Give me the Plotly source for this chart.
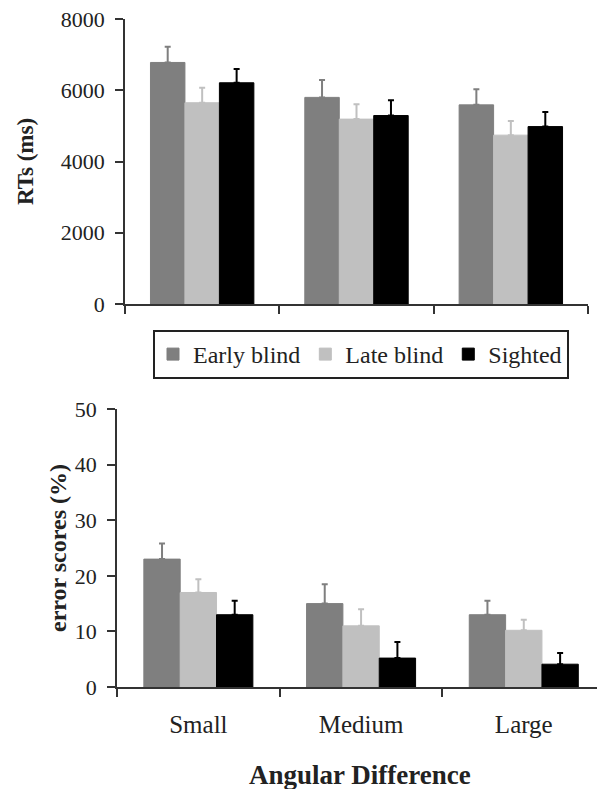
import plotly.graph_objects as go

# Conditions and groups
categories = ["Small", "Medium", "Large"]
groups = ["Early blind", "Late blind", "Sighted"]
colors = ["#7f7f7f", "#c0c0c0", "#000000"]

# Reaction times (ms), means and SE
rt_early = [6780, 5800, 5590]
rt_late = [5650, 5190, 4740]
rt_sighted = [6210, 5290, 4980]
rt_err_early = [440, 490, 440]
rt_err_late = [420, 420, 400]
rt_err_sighted = [390, 430, 410]

# Error scores (%), means and SE
err_early = [23.0, 15.0, 13.0]
err_late = [17.0, 11.0, 10.2]
err_sighted = [13.0, 5.2, 4.1]
err_err_early = [2.8, 3.5, 2.5]
err_err_late = [2.4, 3.0, 1.9]
err_err_sighted = [2.5, 2.9, 2.0]

rt_vals = [rt_early, rt_late, rt_sighted]
rt_errs = [rt_err_early, rt_err_late, rt_err_sighted]
es_vals = [err_early, err_late, err_sighted]
es_errs = [err_err_early, err_err_late, err_err_sighted]

W, H = 597, 789
FONT = "Liberation Serif, Times New Roman, serif"
AXIS_COLOR = "#333333"
TEXT_COLOR = "#222222"

fig = go.Figure()

for i, g in enumerate(groups):
    fig.add_trace(go.Bar(
        x=categories, y=rt_vals[i], name=g, marker_color=colors[i],
        marker_line=dict(color=colors[i], width=1),
        error_y=dict(type="data", array=rt_errs[i], arrayminus=[0] * 3,
                     symmetric=False, color=colors[i], thickness=2, width=3),
        xaxis="x", yaxis="y", showlegend=True, legendgroup=g,
    ))
for i, g in enumerate(groups):
    fig.add_trace(go.Bar(
        x=categories, y=es_vals[i], name=g, marker_color=colors[i],
        marker_line=dict(color=colors[i], width=1),
        error_y=dict(type="data", array=es_errs[i], arrayminus=[0] * 3,
                     symmetric=False, color=colors[i], thickness=2, width=3),
        xaxis="x2", yaxis="y2", showlegend=False, legendgroup=g,
    ))


def px_x(p):
    return p / W


def px_y(p):
    return (H - p) / H


axis_common = dict(
    showline=True, linecolor=AXIS_COLOR, linewidth=1.5,
    ticks="outside", ticklen=8, tickwidth=1.5, tickcolor=AXIS_COLOR,
    showgrid=False, zeroline=False, automargin=False,
    tickfont=dict(family=FONT, size=22, color=TEXT_COLOR),
)

fig.update_layout(
    width=W, height=H,
    margin=dict(l=0, r=0, t=0, b=0),
    paper_bgcolor="white", plot_bgcolor="white",
    barmode="group", bargap=0.33, bargroupgap=0,
    font=dict(family=FONT, color=TEXT_COLOR, size=22),
    xaxis=dict(axis_common, domain=[px_x(125), px_x(588)], anchor="y",
               type="category", tickson="boundaries", showticklabels=False,
               range=[-0.5, 2.5]),
    yaxis=dict(axis_common, domain=[px_y(304), px_y(19)], anchor="x",
               range=[0, 8000], dtick=2000, tickformat="d",
               ticklabelstandoff=6,
               title=dict(text="<b>RTs (ms)</b>", standoff=21,
                          font=dict(family=FONT, size=23, color=TEXT_COLOR))),
    xaxis2=dict(axis_common, domain=[px_x(117), 1.0], anchor="y2",
                type="category", tickson="boundaries",
                range=[-0.5, 2.45], ticklabelstandoff=14,
                tickfont=dict(family=FONT, size=25, color=TEXT_COLOR)),
    yaxis2=dict(axis_common, domain=[px_y(687), px_y(409)], anchor="x2",
                range=[0, 50], dtick=10, ticklabelstandoff=6,
                title=dict(text="<b>error scores (%)</b>", standoff=1,
                           font=dict(family=FONT, size=24, color=TEXT_COLOR))),
    legend=dict(
        orientation="h", x=px_x(361), y=px_y(354.5),
        xanchor="center", yanchor="middle",
        bordercolor="#222222", borderwidth=2, bgcolor="white",
        font=dict(family=FONT, size=24, color=TEXT_COLOR),
        itemclick=False, tracegroupgap=0,
    ),
    annotations=[
        dict(text="<b>Angular Difference</b>", x=px_x(360), y=px_y(775),
             xref="paper", yref="paper", showarrow=False,
             xanchor="center", yanchor="middle",
             font=dict(family=FONT, size=27, color=TEXT_COLOR)),
    ],
)

fig.write_html("out.html")
